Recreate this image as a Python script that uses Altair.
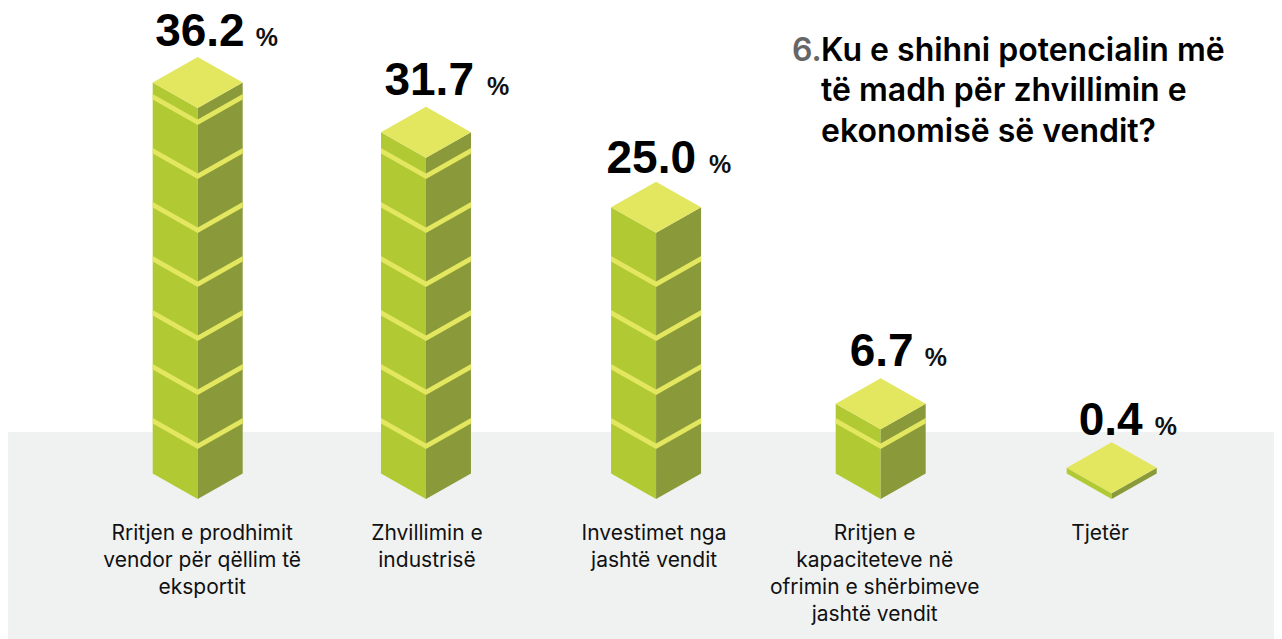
import altair as alt
import pandas as pd

# --- chart values ---
categories = [
    "Rritjen e prodhimit\nvendor për qëllim të\neksportit",
    "Zhvillimin e\nindustrisë",
    "Investimet nga\njashtë vendit",
    "Rritjen e\nkapaciteteve në\nofrimin e shërbimeve\njashtë vendit",
    "Tjetër",
]
value_labels = ["36.2", "31.7", "25.0", "6.7", "0.4"]
drawn_heights = [36.2, 31.6, 24.66, 6.45, 0.53]
seam_levels = [4.88, 9.88, 14.88, 19.88, 24.88, 29.88, 34.88]

# --- layout constants (slot = one bar spacing, unit = one percent) ---
W, H = 1266, 631
PX_PER_SLOT, PX_PER_UNIT = 228.5, 10.8
BASE_X_PX, BASE_Y_PX = 189.7, 491.0
SLOTS = [0, 0.999, 2.006, 2.989, 4.0]
HALF_W = 45 / PX_PER_SLOT
RISE = 25.5 / PX_PER_UNIT
SEAM = 5.5 / PX_PER_UNIT
NUM_SHIFT = [47, 48, 40, 33, 31]
PCT_SHIFT = [58, 61, 53, 44, 43]
NUM_GAP = [11, 12, 9, 12, 7]
CAT_SHIFT = [4.5, 1, -2, -6, -11.7]
CAT_BASE = (499 - 540.3) / PX_PER_UNIT
BAND_TOP = (499 - 432) / PX_PER_UNIT

x_dom = [-BASE_X_PX / PX_PER_SLOT, (W - BASE_X_PX) / PX_PER_SLOT]
y_dom = [(BASE_Y_PX - H) / PX_PER_UNIT, BASE_Y_PX / PX_PER_UNIT]
x_scale = alt.Scale(domain=x_dom, range=[0, W], nice=False, zero=False)
X = alt.X("x:Q", scale=x_scale, axis=None)
Y = alt.Y("y:Q", scale=alt.Scale(domain=y_dom, range=[H, 0], nice=False, zero=False), axis=None)

left, right, top, seams = [], [], [], []
for i, (cx, h) in enumerate(zip(SLOTS, drawn_heights)):
    left += [
        dict(b=i, x=cx - HALF_W, y=h + RISE, y2=RISE),
        dict(b=i, x=cx, y=h, y2=0),
    ]
    right += [
        dict(b=i, x=cx, y=h, y2=0),
        dict(b=i, x=cx + HALF_W, y=h + RISE, y2=RISE),
    ]
    top += [
        dict(b=i, x=cx - HALF_W, y=h + RISE, y2=h + RISE),
        dict(b=i, x=cx, y=h + 2 * RISE, y2=h),
        dict(b=i, x=cx + HALF_W, y=h + RISE, y2=h + RISE),
    ]
    for k, s in enumerate(seam_levels):
        if s < h - 1:
            seams += [
                dict(b=f"{i}-{k}", x=cx - HALF_W, y=s + RISE + SEAM / 2, y2=s + RISE - SEAM / 2),
                dict(b=f"{i}-{k}", x=cx, y=s + SEAM / 2, y2=s - SEAM / 2),
                dict(b=f"{i}-{k}", x=cx + HALF_W, y=s + RISE + SEAM / 2, y2=s + RISE - SEAM / 2),
            ]


def face(rows, color):
    return (
        alt.Chart(pd.DataFrame(rows))
        .mark_area(color=color, interpolate="linear", opacity=1)
        .encode(x=X, y=Y, y2="y2:Q", detail="b:N")
    )


band = (
    alt.Chart(pd.DataFrame([dict(x=x_dom[0], x2=x_dom[1], y=BAND_TOP, y2=y_dom[0])]))
    .mark_rect(color="#f0f2f1")
    .encode(x=X, x2="x2:Q", y=Y, y2="y2:Q")
)

nums = pd.DataFrame(
    [
        dict(
            x=SLOTS[i] + NUM_SHIFT[i] / PX_PER_SLOT,
            xp=SLOTS[i] + PCT_SHIFT[i] / PX_PER_SLOT,
            y=drawn_heights[i] + 2 * RISE + NUM_GAP[i] / PX_PER_UNIT,
            t=value_labels[i],
            p="%",
        )
        for i in range(5)
    ]
)
num_text = (
    alt.Chart(nums)
    .mark_text(font="Liberation Sans", fontWeight="bold", fontSize=46, align="right", baseline="alphabetic", color="#000000")
    .encode(x=X, y=Y, text="t:N")
)
pct_text = (
    alt.Chart(nums)
    .mark_text(font="Liberation Sans", fontWeight="bold", fontSize=25, align="left", baseline="alphabetic", color="#111111")
    .encode(x=alt.X("xp:Q", scale=x_scale, axis=None), y=Y, text="p:N")
)

cats = pd.DataFrame(
    [dict(x=SLOTS[i] + CAT_SHIFT[i] / PX_PER_SLOT, y=CAT_BASE, t=categories[i]) for i in range(5)]
)
cat_text = (
    alt.Chart(cats)
    .mark_text(font="Inter", fontSize=21, align="center", baseline="alphabetic", lineBreak="\n", lineHeight=27, color="#111111")
    .encode(x=X, y=Y, text="t:N")
)

title_df = pd.DataFrame([dict(n="6.", t="Ku e shihni potencialin më\ntë madh për zhvillimin e\nekonomisë së vendit?")])
title_num = (
    alt.Chart(title_df)
    .mark_text(font="Inter", fontWeight=600, fontSize=32, align="left", baseline="alphabetic", color="#666666")
    .encode(x=alt.value(784), y=alt.value(52.5), text="n:N")
)
title_text = (
    alt.Chart(title_df)
    .mark_text(font="Inter", fontWeight=600, fontSize=32, align="left", baseline="alphabetic", lineBreak="\n", lineHeight=40.5, color="#000000")
    .encode(x=alt.value(813), y=alt.value(52.5), text="t:N")
)

chart = (
    alt.layer(
        band,
        face(left, "#b1ca34"),
        face(right, "#8a9a3a"),
        face(seams, "#e3e65f"),
        face(top, "#e3e65f"),
        num_text,
        pct_text,
        cat_text,
        title_num,
        title_text,
    )
    .properties(width=W, height=H, padding=0, autosize="none", background="#ffffff")
    .configure_view(stroke=None)
)
chart.save("out.html", embed_options={"renderer": "svg", "actions": False})
